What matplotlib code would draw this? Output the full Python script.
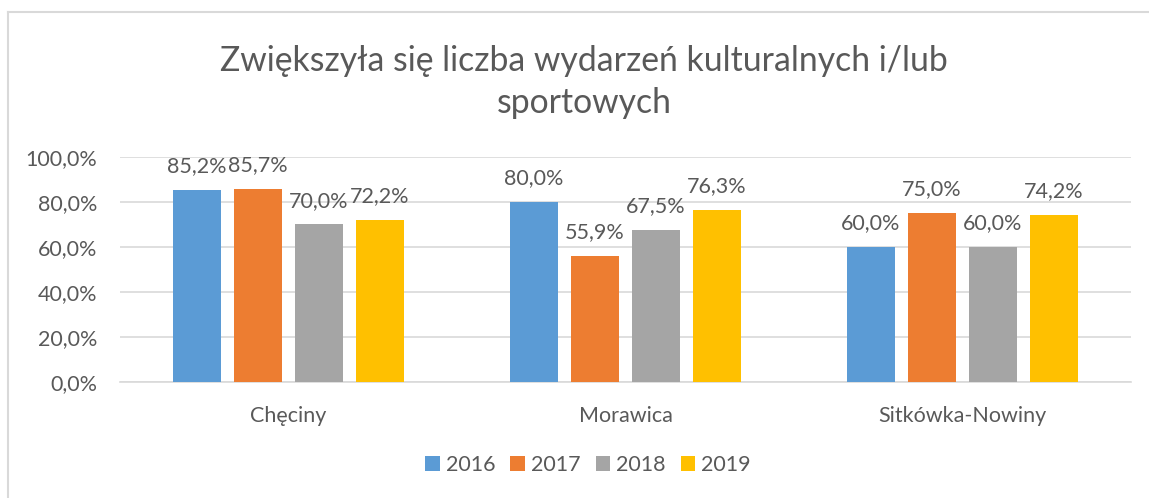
import matplotlib
matplotlib.use("Agg")
import matplotlib.pyplot as plt
import numpy as np
from matplotlib.lines import Line2D
from matplotlib.patches import Patch

# Data
categories = ["Chęciny", "Morawica", "Sitkówka-Nowiny"]
years = ["2016", "2017", "2018", "2019"]
v2016 = [85.2, 80.0, 60.0]
v2017 = [85.7, 55.9, 75.0]
v2018 = [70.0, 67.5, 60.0]
v2019 = [72.2, 76.3, 74.2]
series = [v2016, v2017, v2018, v2019]
colors = ["#5B9BD5", "#ED7D31", "#A5A5A5", "#FFC000"]
title = "Zwiększyła się liczba wydarzeń kulturalnych i/lub\nsportowych"
y_ticks = [0, 20, 40, 60, 80, 100]

FONT = "Lato"
TXT = "#595959"
GRID = "#D9D9D9"
FS = 15.5

W, H = 1149, 498
fig = plt.figure(figsize=(W / 100, H / 100), dpi=100)

def px(x, y):
    return x / W, 1 - y / H

# chart frame (top and left edges visible)
fig.add_artist(Line2D([8 / W, 8 / W], [0, 1 - 12 / H], transform=fig.transFigure,
                      color="#D9D9D9", lw=1.5))
fig.add_artist(Line2D([8 / W, 1], [1 - 12 / H, 1 - 12 / H], transform=fig.transFigure,
                      color="#D9D9D9", lw=1.5))

left, right, top, bottom = 120, 1131, 157, 382
ax = fig.add_axes([left / W, 1 - bottom / H, (right - left) / W, (bottom - top) / H])

x = np.arange(len(categories))
pitch = 61 / 337
width = 48 / 337
for i, (vals, c) in enumerate(zip(series, colors)):
    pos = x + (i - 1.5) * pitch
    ax.bar(pos, vals, width=width, color=c, zorder=3)
    for p, v in zip(pos, vals):
        ax.annotate(f"{v:.1f}%".replace(".", ","), (p, v), xytext=(0, 10),
                    textcoords="offset points", ha="center", va="bottom",
                    fontsize=FS, color=TXT, family=FONT)

ax.set_xlim(-0.5, len(categories) - 0.5)
ax.set_ylim(0, 100)
ax.set_yticks(y_ticks)
ax.set_yticklabels([f"{t:.1f}%".replace(".", ",") for t in y_ticks],
                   fontsize=FS, color=TXT, family=FONT)
ax.set_xticks(x)
ax.set_xticklabels(categories, fontsize=FS, color=TXT, family=FONT)
ax.tick_params(axis="both", length=0)
ax.tick_params(axis="y", pad=16.5)
ax.tick_params(axis="x", pad=17)
ax.grid(axis="y", color=GRID, lw=1.2, zorder=0)
for s in ["top", "right", "left"]:
    ax.spines[s].set_visible(False)
ax.spines["bottom"].set_color(GRID)
ax.spines["bottom"].set_linewidth(1.2)

fig.text(*px(584, 82), title, ha="center", va="center", fontsize=24.3,
         color=TXT, family=FONT, linespacing=1.35)

handles = [Patch(facecolor=c, edgecolor="none") for c in colors]
fig.legend(handles, years, loc="center", bbox_to_anchor=px(588, 465), ncol=4,
           frameon=False, prop={"family": FONT, "size": FS}, labelcolor=TXT,
           handlelength=0.68, handleheight=0.68, handletextpad=0.28, columnspacing=0.7)

fig.savefig("out.png", dpi=100, facecolor="white")
